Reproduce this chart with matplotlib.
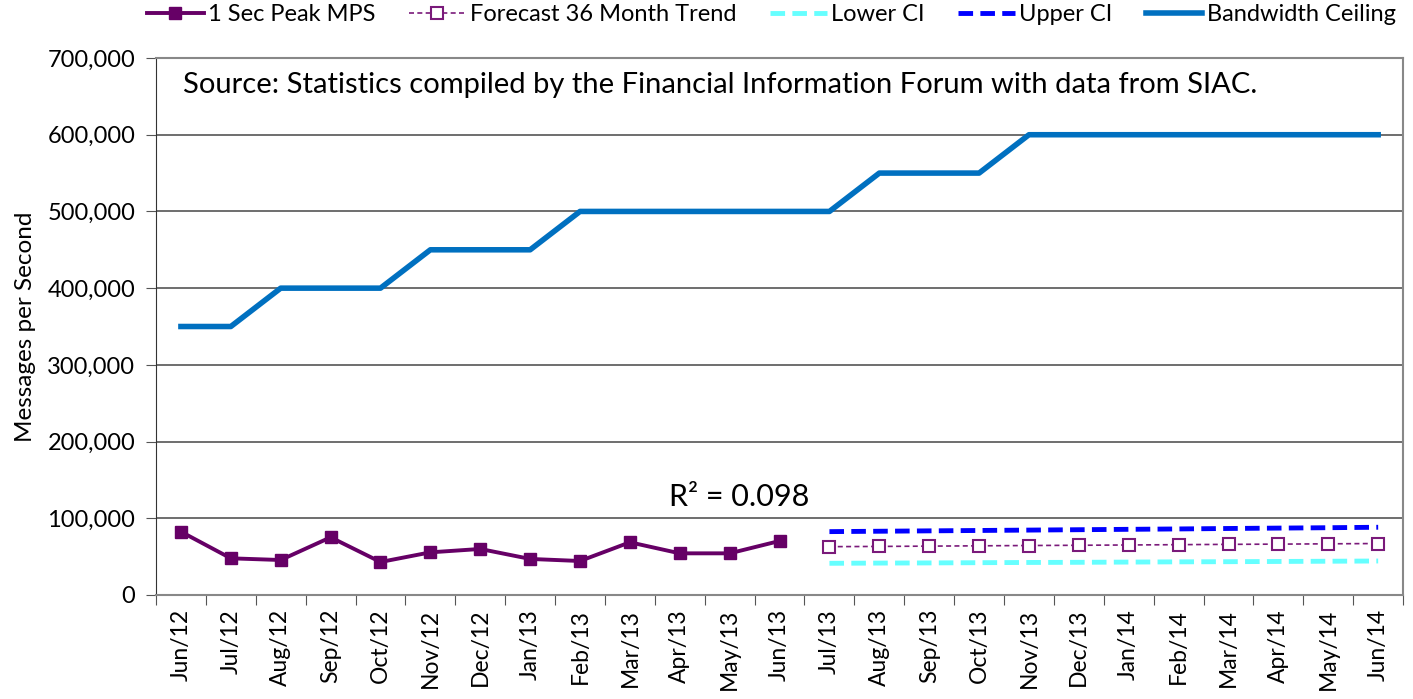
import numpy as np
import matplotlib.pyplot as plt

# --- datos --- #
months = ["Jun/12", "Jul/12", "Aug/12", "Sep/12", "Oct/12", "Nov/12", "Dec/12",
          "Jan/13", "Feb/13", "Mar/13", "Apr/13", "May/13", "Jun/13", "Jul/13",
          "Aug/13", "Sep/13", "Oct/13", "Nov/13", "Dec/13", "Jan/14", "Feb/14",
          "Mar/14", "Apr/14", "May/14", "Jun/14"]

peak_mps = [82500, 47800, 45600, 75200, 43000, 55600, 60000, 47000, 44300,
            68700, 54300, 54300, 70400]
forecast = [63000, 63300, 63700, 64100, 64500, 64800, 65200, 65600, 66000,
            66300, 66700, 67100]
lower_ci = [41300, 41600, 41800, 42100, 42400, 42600, 42900, 43200, 43400,
            43700, 44000, 44300]
upper_ci = [82600, 83100, 83600, 84100, 84600, 85100, 85600, 86100, 86700,
            87200, 87700, 88300]
ceiling = [350000, 350000, 400000, 400000, 400000, 450000, 450000, 450000,
           500000, 500000, 500000, 500000, 500000, 500000, 550000, 550000,
           550000, 600000, 600000, 600000, 600000, 600000, 600000, 600000,
           600000]

source_txt = "Source: Statistics compiled by the Financial Information Forum with data from SIAC."
r2_txt = "R² = 0.098"

plt.rcParams['font.family'] = ['Lato', 'DejaVu Sans']

x = np.arange(len(months))
x_hist = x[:len(peak_mps)]
x_fc = x[len(peak_mps):]

fig = plt.figure(figsize=(14.13, 6.99), dpi=100)
ax = fig.add_axes([0.1104, 0.1488, 0.8826, 0.7682])

ax.plot(x_hist, peak_mps, color="#660066", lw=2.8, marker="s", markersize=9,
        label="1 Sec Peak MPS", zorder=5)
ax.plot(x_fc, forecast, color="#7a1a7a", lw=1.2, ls=(0, (3, 2)), marker="s",
        markersize=9, markerfacecolor="white", markeredgewidth=1.5,
        label="Forecast 36 Month Trend", zorder=5)
ax.plot(x_fc, lower_ci, color="#66ffff", lw=3.5, ls=(0, (3, 1.5)), label="Lower CI")
ax.plot(x_fc, upper_ci, color="#0000ff", lw=3.5, ls=(0, (3, 1.5)), label="Upper CI")
ax.plot(x, ceiling, color="#0070c0", lw=4, label="Bandwidth Ceiling",
        solid_joinstyle="round")

ax.set_xlim(-0.5, len(months) - 0.5)
ax.set_ylim(0, 700000)
ax.set_yticks(np.arange(0, 700001, 100000))
ax.set_yticklabels([f"{v:,}" for v in range(0, 700001, 100000)], fontsize=17)
ax.yaxis.grid(True, color="#555555", lw=1.2)
ax.set_axisbelow(True)

ax.set_xticks(np.arange(-0.5, len(months), 1.0))
ax.set_xticklabels([])
ax.set_xticks(x, minor=True)
ax.set_xticklabels(months, minor=True, rotation=90, fontsize=16.5)
ax.tick_params(axis="x", which="minor", length=0, pad=10)
ax.tick_params(axis="x", which="major", length=7, color="#555555")
ax.tick_params(axis="y", length=7, color="#555555", pad=8)

for s in ["top", "right", "bottom"]:
    ax.spines[s].set_color("#888888")
    ax.spines[s].set_linewidth(1.5)
ax.spines["left"].set_color("#333333")

ax.set_ylabel("Messages per Second", fontsize=17.5, labelpad=8)
ax.text(0.04, 665000, source_txt, fontsize=21, va="center", ha="left")
ax.text(11.2, 128000, r2_txt, fontsize=22, ha="center", va="center")

fig.legend(loc="upper right", bbox_to_anchor=(1.003, 1.025), ncol=5, frameon=False,
           fontsize=17, handlelength=2.4, columnspacing=1.4, handletextpad=0.2)

fig.savefig("out.png", dpi=100)
